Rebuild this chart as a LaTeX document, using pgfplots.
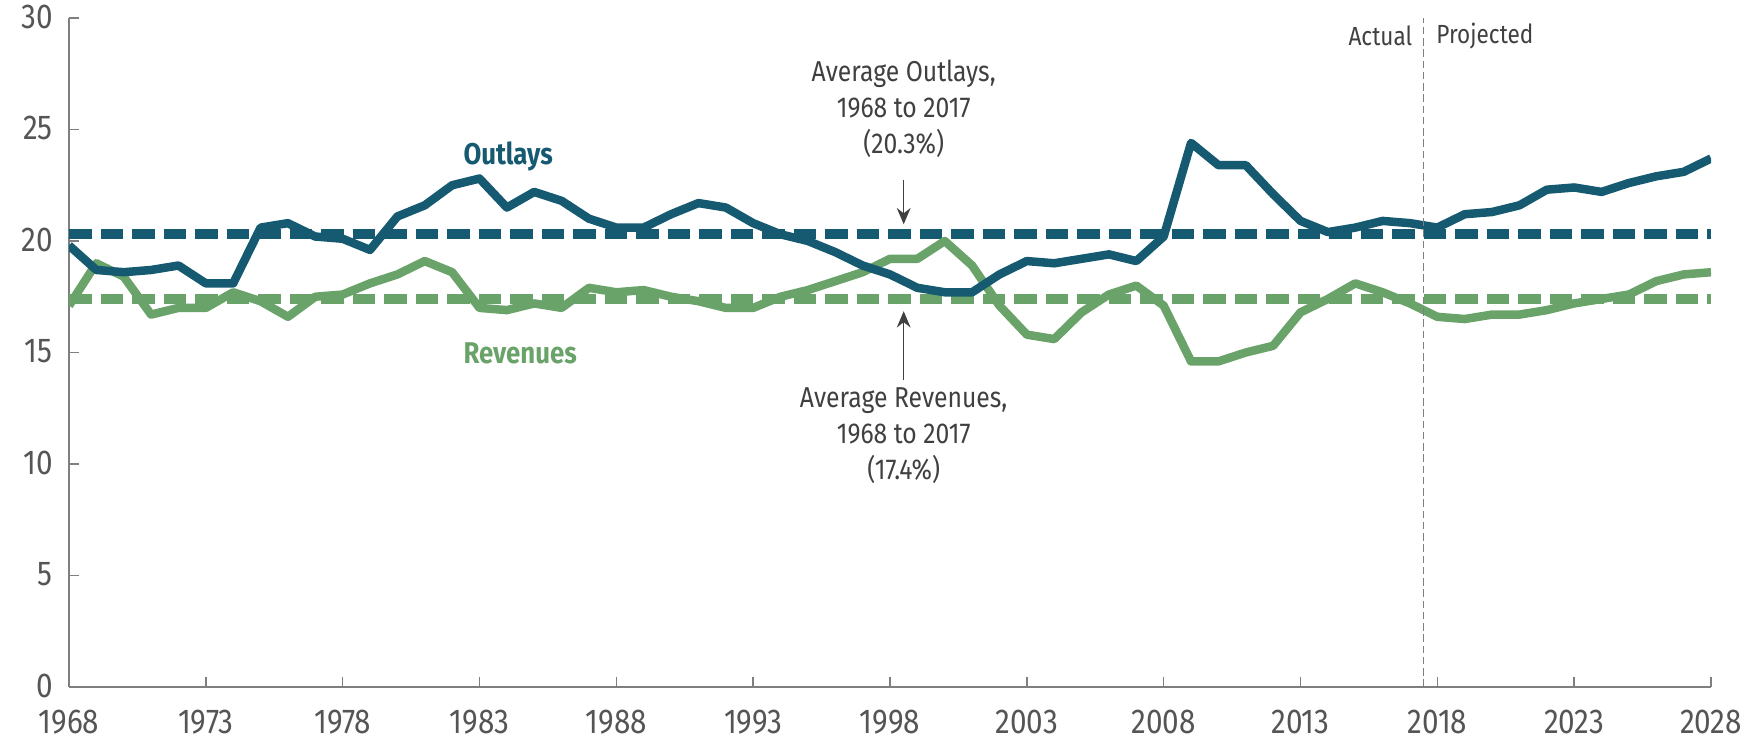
\documentclass[border=0pt]{standalone}
\usepackage{fontspec}
\setmainfont{Fira Sans}[FakeStretch=0.86]
\usepackage{pgfplots}
\pgfplotsset{compat=1.18}
\usetikzlibrary{arrows.meta}

\definecolor{outl}{HTML}{165A72}
\definecolor{reve}{HTML}{6AA36A}
\definecolor{txt}{HTML}{404040}
\definecolor{ticktxt}{HTML}{555555}
\definecolor{axgray}{HTML}{7F7F7F}

% year, percent of GDP
\pgfplotstableread{
year val
1968 19.8
1969 18.7
1970 18.6
1971 18.7
1972 18.9
1973 18.1
1974 18.1
1975 20.6
1976 20.8
1977 20.2
1978 20.1
1979 19.6
1980 21.1
1981 21.6
1982 22.5
1983 22.8
1984 21.5
1985 22.2
1986 21.8
1987 21.0
1988 20.6
1989 20.6
1990 21.2
1991 21.7
1992 21.5
1993 20.8
1994 20.3
1995 20.0
1996 19.5
1997 18.9
1998 18.5
1999 17.9
2000 17.7
2001 17.7
2002 18.5
2003 19.1
2004 19.0
2005 19.2
2006 19.4
2007 19.1
2008 20.2
2009 24.4
2010 23.4
2011 23.4
2012 22.1
2013 20.9
2014 20.4
2015 20.6
2016 20.9
2017 20.8
2018 20.6
2019 21.2
2020 21.3
2021 21.6
2022 22.3
2023 22.4
2024 22.2
2025 22.6
2026 22.9
2027 23.1
2028 23.7
}\outlays

\pgfplotstableread{
year val
1968 17.1
1969 19.0
1970 18.4
1971 16.7
1972 17.0
1973 17.0
1974 17.7
1975 17.3
1976 16.6
1977 17.5
1978 17.6
1979 18.1
1980 18.5
1981 19.1
1982 18.6
1983 17.0
1984 16.9
1985 17.2
1986 17.0
1987 17.9
1988 17.7
1989 17.8
1990 17.5
1991 17.3
1992 17.0
1993 17.0
1994 17.5
1995 17.8
1996 18.2
1997 18.6
1998 19.2
1999 19.2
2000 20.0
2001 18.9
2002 17.1
2003 15.8
2004 15.6
2005 16.8
2006 17.6
2007 18.0
2008 17.1
2009 14.6
2010 14.6
2011 15.0
2012 15.3
2013 16.8
2014 17.4
2015 18.1
2016 17.7
2017 17.2
2018 16.6
2019 16.5
2020 16.7
2021 16.7
2022 16.9
2023 17.2
2024 17.4
2025 17.6
2026 18.2
2027 18.5
2028 18.6
}\revenues

\begin{document}
\begin{tikzpicture}
\begin{axis}[
  scale only axis,
  width=656.8pt, height=267.6pt,
  xmin=1968, xmax=2028, ymin=0, ymax=30,
  xtick={1968,1973,...,2028},
  ytick={0,5,...,30},
  axis lines*=left,
  axis line style={axgray, line width=0.8pt},
  tick align=inside,
  major tick length=4pt,
  tick style={axgray, line width=0.6pt},
  /pgf/number format/1000 sep={},
  /pgf/number format/assume math mode=true,
  tick label style={text=ticktxt, font=\fontsize{13.8}{15}\selectfont},
  x tick label style={yshift=-5.5pt},
  y tick label style={xshift=-3pt, yshift=0.5pt},
]
\addplot[outl, line width=4pt, dash pattern=on 9pt off 3.6pt] coordinates {(1968,20.3) (2028,20.3)};
\addplot[reve, line width=4pt, dash pattern=on 9pt off 3.6pt] coordinates {(1968,17.4) (2028,17.4)};
\addplot[reve, line width=3.4pt, line join=round] table[x=year, y=val] {\revenues};
\addplot[outl, line width=3.4pt, line join=round] table[x=year, y=val] {\outlays};

\draw[axgray, line width=0.6pt, dash pattern=on 3pt off 1.5pt] (axis cs:2017.5,0) -- (axis cs:2017.5,30);
\node[anchor=east, text=txt, font=\fontsize{10.5}{12}\selectfont, inner sep=0pt] at (axis cs:2017.1,29.2) {Actual};
\node[anchor=west, text=txt, font=\fontsize{10.5}{12}\selectfont, inner sep=0pt] at (axis cs:2017.95,29.2) {Projected};

\node[anchor=west, text=outl, font=\bfseries\fontsize{12}{14}\selectfont, inner sep=0pt] at (axis cs:1982.4,23.8) {Outlays};
\node[anchor=west, text=reve, font=\bfseries\fontsize{12}{14}\selectfont, inner sep=0pt] at (axis cs:1982.4,14.96) {Revenues};

\node[anchor=south, align=center, text=txt, font=\fontsize{11.5}{14.4}\selectfont, inner sep=0pt] at (axis cs:1998.5,23.7) {Average Outlays,\\1968 to 2017\\(20.3\%)};
\draw[-{Stealth[length=6.5pt,width=5.5pt]}, txt, line width=0.6pt] (axis cs:1998.5,22.75) -- (axis cs:1998.5,20.75);

\node[anchor=north, align=center, text=txt, font=\fontsize{11.5}{14.4}\selectfont, inner sep=0pt] at (axis cs:1998.5,13.45) {Average Revenues,\\1968 to 2017\\(17.4\%)};
\draw[-{Stealth[length=6.5pt,width=5.5pt]}, txt, line width=0.6pt] (axis cs:1998.5,13.75) -- (axis cs:1998.5,16.85);

\coordinate (ll) at (axis cs:1968,0);
\coordinate (ur) at (axis cs:2028,30);
\end{axis}
\pgfresetboundingbox
\path[use as bounding box] ([shift={(-27.6pt,-21.6pt)}]ll) rectangle ([shift={(19.2pt,7.2pt)}]ur);
\end{tikzpicture}
\end{document}
